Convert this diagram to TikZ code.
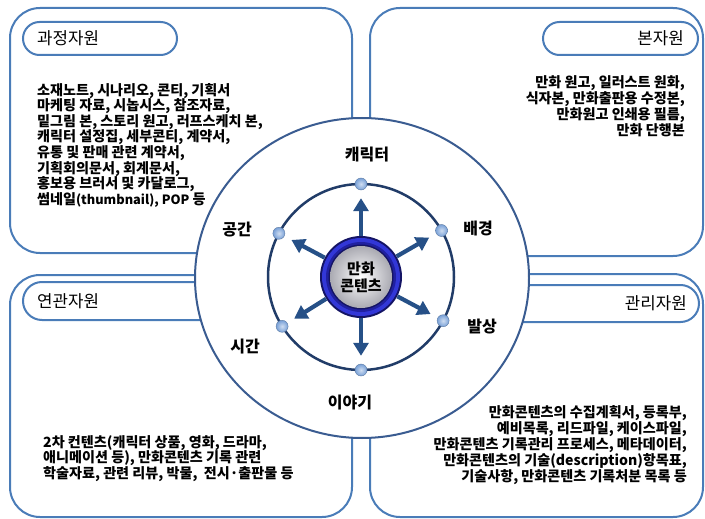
\documentclass[tikz,border=0pt]{standalone}
\usepackage{fontspec}
\setmainfont{Noto Sans CJK KR}
\usetikzlibrary{arrows.meta,shapes.geometric}
\definecolor{boxblue}{RGB}{74,124,184}
\definecolor{outerblue}{RGB}{58,92,145}
\definecolor{innerblue}{RGB}{33,60,104}
\definecolor{arrowblue}{RGB}{38,80,135}
\definecolor{dotblue}{RGB}{120,160,215}
\definecolor{ringnavy}{RGB}{20,20,100}
\definecolor{ringblue}{RGB}{50,55,215}
\definecolor{ringmid}{RGB}{32,32,160}
\definecolor{diskgray}{RGB}{170,170,178}
\begin{document}
\begin{tikzpicture}[x=1pt,y=-1pt,
  boxline/.style={draw=boxblue, line width=2pt, rounded corners=30pt},
  pillline/.style={draw=boxblue, line width=2pt, fill=white},
  pilltext/.style={inner sep=0pt, font=\fontsize{16.8}{18}\selectfont},
  listL/.style={inner sep=0pt, align=left, font=\bfseries\fontsize{14.1}{15.6}\selectfont},
  listR/.style={inner sep=0pt, align=right, font=\bfseries\fontsize{14.1}{15}\selectfont},
  clabel/.style={inner sep=0pt, font=\bfseries\fontsize{16}{18}\selectfont},
  dotnode/.style={circle, inner sep=0pt, minimum size=12pt, draw=dotblue!75!black, line width=0.4pt,
    shading=radial, inner color=dotblue!35!white, outer color=dotblue},
  arr/.style={draw=arrowblue, line width=4.2pt, -{Triangle[length=13pt,width=15pt]}, shorten >=8pt}]
\useasboundingbox (0,0) rectangle (705,519);

% quadrant boxes
\draw[boxline] (10,8) rectangle (352,253);
\draw[boxline] (370,8) rectangle (703,256);
\draw[boxline] (10,275) rectangle (352,517);
\draw[boxline] (370,274) rectangle (703,517);

% pills
\draw[pillline, rounded corners=16.5pt] (23,22) rectangle (177,55);
\draw[pillline, rounded corners=16.5pt] (543,22) rectangle (698,55);
\draw[pillline, rounded corners=19pt] (23,282) rectangle (320,320);
\draw[pillline, rounded corners=18.5pt] (420,285) rectangle (699,322);

\node[pilltext, anchor=west] (pTL) at (37,38.5) {과정자원};
\node[pilltext, anchor=east] (pTR) at (684,38.5) {본자원};
\node[pilltext, anchor=west] (pBL) at (37,301.5) {연관자원};
\node[pilltext, anchor=east] (pBR) at (687,303.5) {관리자원};

% lists
\node[listL, anchor=north west] (tTL) at (37,83) {소재노트, 시나리오, 콘티, 기획서\\마케팅 자료, 시놉시스, 참조자료,\\밑그림 본, 스토리 원고, 러프스케치 본,\\캐릭터 설정집, 세부콘티, 계약서,\\유통 및 판매 관련 계약서,\\기획회의문서, 회계문서,\\홍보용 브러서 및 카달로그,\\썸네일{\fontsize{12.8}{15.6}\selectfont(thumbnail), POP} 등};
\node[listR, anchor=north east] (tTR) at (685,75.5) {만화 원고, 일러스트 원화,\\식자본, 만화출판용 수정본,\\만화원고 인쇄용 필름,\\만화 단행본};
\node[listL, anchor=north west] (tBL) at (43,435) {2차 컨텐츠(캐릭터 상품, 영화, 드라마,\\애니메이션 등), 만화콘텐츠 기록 관련\\학술자료, 관련 리뷰, 박물,\ \ 전시·출판물 등};
\node[listR, anchor=north east] (tBR) at (687,405) {만화콘텐츠의 수집계획서, 등록부,\\예비목록, 리드파일, 케이스파일,\\만화콘텐츠 기록관리 프로세스, 메타데이터,\\만화콘텐츠의 기술(description)항목표,\\기술사항, 만화콘텐츠 기록처분 목록 등};

% central circles
\node[ellipse, draw=outerblue, fill=white, line width=2pt, minimum width=334pt, minimum height=320pt, inner sep=0pt] (outer) at (362,278) {};
\node[circle, draw=innerblue, line width=2.5pt, minimum size=186pt, inner sep=0pt] (inner) at (361,277) {};

% dots
\node[dotnode] (dT) at (361,184) {};
\node[dotnode] (dUR) at (441.5,230.5) {};
\node[dotnode] (dDR) at (443.1,320.7) {};
\node[dotnode] (dB) at (361,370) {};
\node[dotnode] (dDL) at (282.1,326.3) {};
\node[dotnode] (dUL) at (278.9,233.3) {};

% core ring
\node[circle, minimum size=82pt, inner sep=0pt, fill=ringnavy] (core) at (361,277) {};
\fill[ringblue] (core.center) circle[radius=39pt];
\fill[ringmid] (core.center) circle[radius=35pt];
\fill[ringnavy] (core.center) circle[radius=32.5pt];
\node[circle, minimum size=62pt, inner sep=0pt, shading=radial, inner color=white, outer color=diskgray,
      align=center, font=\bfseries\fontsize{15}{17}\selectfont] (disk) at (361,277) {만화\\콘텐츠};

% arrows
\draw[arr] (core) -- (dT);
\draw[arr] (core) -- (dUR);
\draw[arr] (core) -- (dDR);
\draw[arr] (core) -- (dB);
\draw[arr] (core) -- (dDL);
\draw[arr] (core) -- (dUL);

% labels
\node[clabel] (lT) at (367,155) {캐릭터};
\node[clabel] (lUR) at (478,228) {배경};
\node[clabel] (lDR) at (482,327) {발상};
\node[clabel] (lB) at (350,403) {이야기};
\node[clabel] (lDL) at (245,347) {시간};
\node[clabel] (lUL) at (237,230) {공간};
\end{tikzpicture}
\end{document}
